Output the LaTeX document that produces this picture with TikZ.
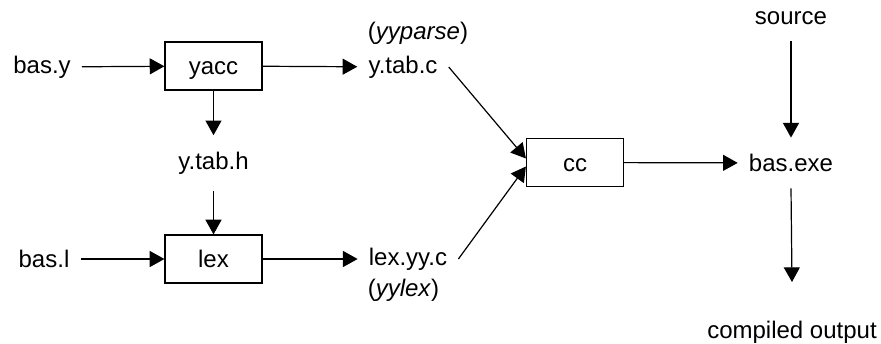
\documentclass[tikz,border=0pt]{standalone}
\usepackage{fontspec}
\setmainfont{Liberation Sans}
\usetikzlibrary{positioning}
\usetikzlibrary{arrows.meta}
\usetikzlibrary{calc}

\begin{document}
\begin{tikzpicture}[x=0.75pt, y=-0.75pt, line width=0.9pt,
	font=\fontsize{18}{21}\selectfont,
	>={Triangle[length=11pt, width=12pt]},
	tool/.style={draw, rectangle, minimum width=72.75pt, minimum height=36pt, inner sep=0pt,
		text height=16pt, text depth=3pt},
	file/.style={inner xsep=8pt, inner ysep=12pt}]
	\useasboundingbox (0,0) rectangle (881,343);

	% Programs
	\node[tool] (yacc) at (213.5,66) {yacc};
	\node[tool] (lex) at (213.5,259) {lex};
	\node[tool] (cc) at (575,162.5) {cc};

	% Files
	\node[file] (basy) at (42,67) {bas.y};
	\node[file] (basl) at (44,259) {bas.l};
	\node[file] (ytabc) at (403,67) {y.tab.c};
	\node[file] (ytabh) at (213.5,163) {y.tab.h};
	\node[file] (lexyyc) at (408,259) {lex.yy.c};
	\node[file] (basexe) at (791,163) {bas.exe};
	\node[file] (source) at (791,18) {source};
	\node[file] (output) at (792,332) {compiled output};

	% Function names
	\node (yyparse) at (418,33) {(\textit{yyparse})};
	\node (yylex) at (403.5,290) {(\textit{yylex})};

	% Connections
	\draw[->] (basy) -- (yacc);
	\draw[->] (yacc) -- (ytabc);
	\draw[->] (yacc) -- (ytabh);
	\draw[->] (ytabh) -- (lex);
	\draw[->] (basl) -- (lex);
	\draw[->] (lex) -- (lexyyc);
	\draw[->] (ytabc.east) -- ($(cc.west)+(0,-4)$);
	\draw[->] (lexyyc.east) -- ($(cc.west)+(0,4)$);
	\draw[->] (cc) -- (basexe);
	\draw[->] (source) -- (basexe);
	\draw[->] (basexe.south) -- (792,282);

\end{tikzpicture}
\end{document}
